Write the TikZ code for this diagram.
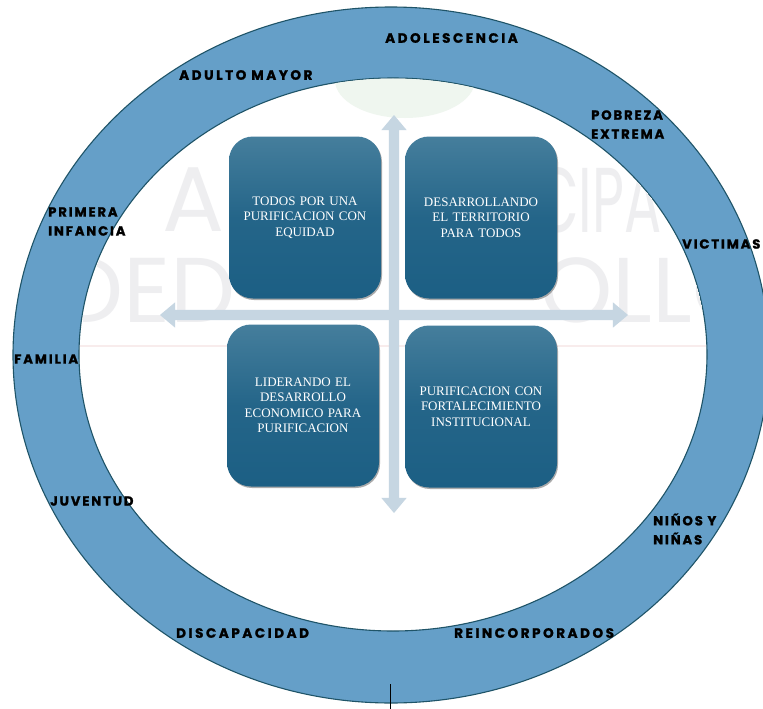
\documentclass[tikz,border=0pt]{standalone}
\usepackage{fontspec}
\setmainfont{Liberation Serif}
\newfontfamily\labelfont[LetterSpace=19,BoldFeatures={FakeBold=1.4}]{Poppins}
\newfontfamily\shortlabelfont[LetterSpace=14,BoldFeatures={FakeBold=1.4}]{Poppins}
\newfontfamily\markfont{Poppins}
\usetikzlibrary{shapes.arrows,shadows}
\definecolor{ringblue}{HTML}{659FC8}
\definecolor{ringedge}{HTML}{1F5468}
\definecolor{boxtop}{HTML}{457E9C}
\definecolor{boxbot}{HTML}{1C5F84}
\definecolor{crossc}{HTML}{C6D6E2}
\definecolor{wm}{HTML}{EEEEF0}
\definecolor{wmleaf}{HTML}{EFF6EF}
\definecolor{wmline}{HTML}{F8ECEC}
\tikzset{
  tile/.style={rounded corners=24pt,minimum width=152pt,minimum height=162pt,inner sep=0pt,
    top color=boxtop,bottom color=boxbot,middle color=boxbot!80!boxtop,
    drop shadow={shadow xshift=1pt,shadow yshift=-1.5pt,fill=black!55,opacity=.6},
    text=white,align=center,font=\fontsize{13}{15.5}\selectfont,text width=140pt},
  tag/.style={font=\labelfont\bfseries\fontsize{13.5}{19}\selectfont,text=black,align=left,inner sep=0pt},
  shorttag/.style={font=\shortlabelfont\bfseries\fontsize{13.2}{19}\selectfont,text=black,align=left,inner sep=0pt},
  crossarrow/.style={double arrow,fill=crossc,draw=none,inner sep=5pt,minimum height=#1,
    minimum width=0pt,double arrow head extend=7.5pt,double arrow tip angle=80},
  wmark/.style={text=wm,font=\markfont\fontsize{92}{92}\selectfont,inner sep=0pt}
}
\begin{document}
\begin{tikzpicture}[x=1pt,y=-1pt]
\useasboundingbox (0,0) rectangle (763,709);
\fill[white] (0,0) rectangle (763,709);
% ring
\path[even odd rule,fill=ringblue]
  (391,355) ellipse [x radius=378,y radius=348]
  (393,354.5) ellipse [x radius=314,y radius=276.5];
\draw[ringedge,line width=1.1pt] (391,355) ellipse [x radius=378,y radius=348];
\draw[ringedge,line width=1.1pt] (393,354.5) ellipse [x radius=314,y radius=276.5];
% faint watermark
\begin{scope}
\clip (393,354.5) ellipse [x radius=313,y radius=276];
\fill[wmleaf] (405,80) ellipse [x radius=70,y radius=38];
\draw[wmline,line width=2pt] (80,346) -- (707,346);
\node[wmark,anchor=east] (wma) at (225,200) {A};
\node[wmark,anchor=west] (wmb) at (536,200) {\scalebox{.6}[1]{CIPA}};
\node[wmark,anchor=east] (wmc) at (236,290) {DED};
\node[wmark,anchor=west] (wmd) at (540,290) {OLLO};
\end{scope}
% cross
\node[crossarrow=398pt,shape border rotate=90] (vert) at (394,314) {};
\node[crossarrow=468pt] (horiz) at (394,315) {};
% tiles
\node[tile] (ta) at (305,217.5) {TODOS POR UNA\\PURIFICACION CON\\EQUIDAD};
\node[tile] (tb) at (481,217.5) {DESARROLLANDO\\EL TERRITORIO\\PARA TODOS};
\node[tile] (tc) at (303,405.5) {LIDERANDO EL\\DESARROLLO\\ECONOMICO PARA\\PURIFICACION};
\node[tile] (td) at (481,406.5) {PURIFICACION CON\\FORTALECIMIENTO\\INSTITUCIONAL};
% ring labels
\node[tag,anchor=west] (l1) at (385,38) {ADOLESCENCIA};
\node[tag,anchor=west] (l2) at (179,75) {ADULTO\hspace{5pt}MAYOR};
\node[shorttag,anchor=west] (l3) at (591,124.5) {POBREZA\\EXTREMA};
\node[shorttag,anchor=west] (l4) at (48,221.5) {PRIMERA\\INFANCIA};
\node[shorttag,anchor=west] (l5) at (682,244) {VICTIMAS};
\node[shorttag,anchor=west] (l6) at (14,359) {FAMILIA};
\node[shorttag,anchor=west] (l7) at (50,501) {JUVENTUD};
\node[shorttag,anchor=west] (l8) at (653,529) {NIÑOS Y\\NIÑAS};
\node[tag,anchor=west] (l9) at (176,633) {DISCAPACIDAD};
\node[tag,anchor=west] (l10) at (454,633) {REINCORPORADOS};
% tick
\coordinate (tick1) at (390,684);
\coordinate (tick2) at (390,709);
\draw[black,line width=1pt] (tick1) -- (tick2);
\end{tikzpicture}
\end{document}
